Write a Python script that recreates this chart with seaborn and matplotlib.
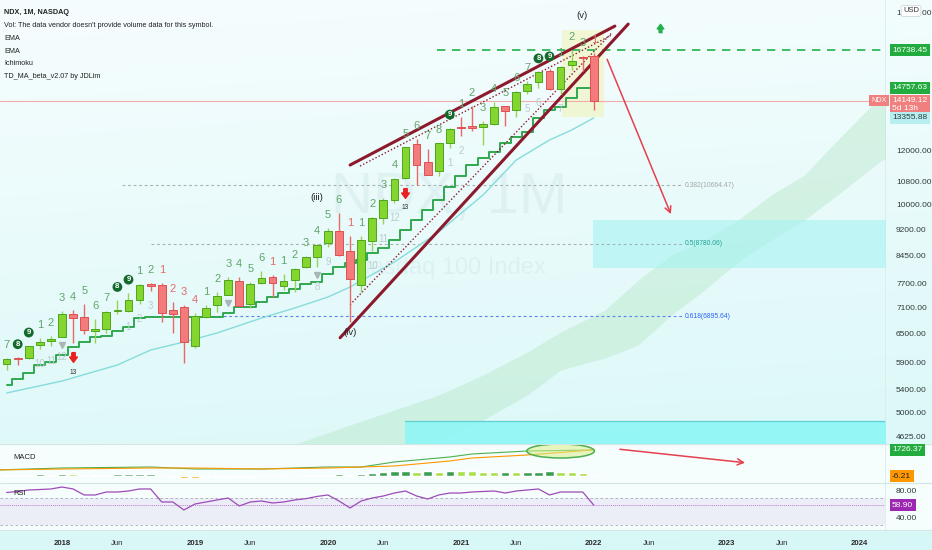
import numpy as np
import pandas as pd
import matplotlib
matplotlib.use("Agg")
import matplotlib.pyplot as plt
import matplotlib.transforms as mtransforms
from matplotlib.patches import Ellipse, Rectangle
import seaborn as sns

# ---------------- data ----------------
months = pd.period_range("2017-08", "2022-01", freq="M")
opens = [5885, 5995, 5990, 6266, 6352,
         6433, 6942, 6873, 6555, 6616, 7012, 7005, 7278, 7670, 7652, 7033, 7103,
         6248, 6880, 7151, 7407, 7755, 7188, 7703, 7871, 7624, 7771, 8130, 8406,
         8797, 9175, 8560, 7661, 8849, 9569, 10167, 10943, 12224, 11540, 11194, 12299,
         12930, 12993, 12959, 13090, 13881, 13730, 14611, 15029, 15601, 14726, 15908, 16380,
         16411]
highs = [6002, 6015, 6254, 6410, 6460,
         7022, 7042, 7187, 6827, 7015, 7280, 7459, 7669, 7697, 7700, 7221, 7158,
         6974, 7148, 7482, 7849, 7850, 7719, 8027, 7906, 7950, 8099, 8425, 8777,
         9248, 9719, 9010, 9007, 9610, 10221, 10946, 12110, 12439, 12058, 12290, 12930,
         13410, 13879, 13218, 14062, 13905, 14586, 15116, 15594, 15701, 15883, 16764, 16420,
         16573]
lows = [5760, 5862, 5975, 6186, 6253,
        6427, 6302, 6491, 6306, 6520, 6955, 6988, 7173, 7488, 6763, 6519, 5898,
        6203, 6856, 7003, 7407, 7123, 7094, 7686, 7340, 7530, 7471, 8091, 8138,
        8683, 8436, 6771, 7465, 8556, 9376, 10046, 10904, 10677, 11056, 11022, 12092,
        12574, 12781, 12210, 13062, 13003, 13395, 14480, 14745, 14676, 14454, 15673, 15620,
        13724]
closes = [5988, 5979, 6248, 6335, 6396,
          6949, 6854, 6581, 6605, 7000, 7040, 7272, 7657, 7628, 6967, 6949, 6330,
          6906, 7089, 7378, 7781, 7128, 7671, 7845, 7692, 7749, 8083, 8403, 8733,
          9150, 8462, 7813, 8890, 9555, 10157, 10905, 12110, 11418, 11052, 12268, 12888,
          12925, 12909, 13091, 13860, 13687, 14554, 14959, 15583, 14689, 15850, 16135, 16330,
          14149.12]

# TD_MA step line (one value per candle)
stair_price = [5483, 5593, 5706, 5861, 5920,
               6059, 6223, 6328, 6434, 6455, 6564, 6652, 6854, 6877, 6877, 6877, 6877,
               6877, 6877, 6877, 6970, 7111, 7111, 7230, 7351, 7450, 7550, 7677, 7728,
               7938, 8125, 8233, 8316, 8513, 8656, 8890, 9191, 9503, 9825, 10158, 10608,
               11004, 11415, 11684, 11920, 12283, 12532, 12742, 13351, 13711, 13849, 14271, 14757.63,
               14757.63]

# EMA (sampled points)
ema_month = [-5, 0, 5, 8, 11, 14, 18, 21, 24, 26, 30, 34, 38, 41, 44, 46, 48]
ema_price = [5339, 5556, 5861, 6161, 6328, 6521, 6854, 7087, 7351, 7600, 8261, 9130,
             10329, 11607, 12407, 12828, 13355.88]

# Ichimoku cloud (sampled points, projected forward)
cloud_month = [21, 26, 30, 34, 38, 42, 45, 49, 52, 55, 58, 61, 64, 67, 70, 74, 76]
cloud_upper = [4500, 4798, 5045, 5303, 5668, 6120, 6543, 7039, 7780, 8456, 8890, 9503,
               10329, 11040, 12407, 14414, 14600]
cloud_lower = [4300, 4300, 4415, 4565, 4879, 5303, 5764, 5999, 6264, 6923, 7525, 8261,
               8890, 9503, 10329, 11607, 11800]

# RSI (one per candle)
rsi_values = [77.8, 79.3, 81.5, 82.2, 83.0,
              85.9, 83.0, 74.1, 74.1, 78.5, 78.5, 80.0, 83.0, 83.0, 63.7, 63.7, 51.9,
              60.7, 63.7, 66.7, 69.6, 57.8, 63.7, 65.2, 62.2, 63.7, 66.7, 68.6, 71.9,
              74.1, 65.2, 54.8, 65.2, 69.6, 72.6, 77.0, 80.0, 72.6, 68.1, 74.1, 77.0,
              77.0, 78.5, 79.3, 80.0, 77.0, 80.0, 81.5, 83.0, 74.1, 78.5, 78.5, 78.5,
              58.9]

# MACD
macd_month = [-6, 0, 8, 12, 18, 24, 27, 30, 35, 37, 42, 48]
macd_line = [398, 531, 598, 465, 465, 598, 598, 930, 1262, 1460, 1660, 1726.37]
signal_line = [398, 465, 531, 531, 465, 531, 598, 664, 996, 1195, 1394, 1732.58]
hist_values = [80, 60, 90, 110, 90,
               120, 100, 80, 60, 80, 100, 110, 120, 130, 10, -40, -120,
               -130, -90, -70, -50, -60, -40, -20, -10, -5, 30, 60, 40,
               70, 100, 60, 120, 200, 260, 300, 330, 280, 320, 260, 330,
               320, 300, 260, 240, 260, 250, 270, 290, 300, 250, 240, 230,
               -6.21]

# TD sequential labels
td_green_m = [-5, -4, -3, -2, -1, 0, 1, 2, 3, 4, 5, 6, 7, 8, 13, 14, 15, 16, 17, 18,
              20, 21, 22, 23, 24, 25, 27, 28, 29, 30, 31, 32, 33, 34, 35, 36, 37, 38,
              39, 40, 41, 42, 43, 44, 45, 46, 47]
td_green_txt = ['7', '8', '9', '1', '2', '3', '4', '5', '6', '7', '8', '9', '1', '2',
                '1', '2', '3', '4', '5', '6', '1', '2', '3', '4', '5', '6',
                '1', '2', '3', '4', '5', '6', '7', '8', '9', '1', '2', '3', '4', '5',
                '6', '7', '8', '9', '1', '2', '3']
td_circled_m = [-4, -3, 5, 6, 35, 43, 44]
td_red_m = [9, 10, 11, 12, 19, 26, 48]
td_red_txt = ['1', '2', '3', '4', '1', '1', '1']
cd_m = [-2, -1, 0, 6, 7, 8, 23, 24, 28, 29, 30, 35, 36, 42, 43, 45]
cd_txt = ['10', '11', '12', '1', '2', '3', '8', '9', '10', '11', '12', '1', '2', '5', '6', '7']
td13_m = [1, 31]
tri_m = [0, 15, 23]

# annotations
fib_levels = [10664.47, 8780.06, 6895.64]
fib_names = ['0.382', '0.5', '0.618']
fib_start = [5.4, 8.0, 8.0]
fib_end = 56.0
target_level = 16738.45
wedge_upper_m, wedge_upper_p = [26.0, 49.9], [11414, 18138]
wedge_lower_m, wedge_lower_p = [25.1, 51.1], [6418, 18257]
dot_upper_m, dot_upper_p = [26.9, 49.6], [11376, 17602]
dot_lower_m, dot_lower_p = [26.0, 49.6], [7165, 17720]
arrow_main = [(49.1, 16380), (55.05, 9608)]
arrow_macd = [(50.1, 1793), (61.9, 863)]
box1_m, box1_p = 47.9, (8104, 9513)
box2_m, box2_p = 30.96, (4000, 4867)
hl_box_m, hl_box_p = (45.1, 48.9), (13390, 17890)
waves_txt = ['(iii)', '(iv)', '(v)']
waves_m = [23.0, 26.0, 46.9]
waves_p = [10258, 6521, 18819]
ticks_price = [4625, 5000, 5400, 5900, 6500, 7100, 7700, 8450, 9200, 10000, 10800, 12000, 19000]
xtick_m = [0, 5, 12, 17, 24, 29, 36, 41, 48, 53, 60, 65, 72]
xtick_lbl = ['2018', 'Jun', '2019', 'Jun', '2020', 'Jun', '2021', 'Jun', '2022', 'Jun', '2023', 'Jun', '2024']

# ---------------- style ----------------
sns.set_theme(style="white")
plt.rcParams['font.family'] = ['Liberation Sans', 'DejaVu Sans']
plt.rcParams['axes.unicode_minus'] = False

W, H = 932, 550
fig = plt.figure(figsize=(W / 100, H / 100), dpi=100)


def rect(x0, y0, x1, y1):
    return [x0 / W, 1 - y1 / H, (x1 - x0) / W, (y1 - y0) / H]


# background gradient
bg = fig.add_axes([0, 0, 1, 1], zorder=-5)
bg.set_axis_off()
ty = np.linspace(0, 1, 200)[:, None]
tx = np.linspace(0, 1, 200)[None, :]
g = np.clip(ty * 0.85 + tx * 0.1, 0, 1)[..., None]
c_top = np.array([0.965, 0.992, 0.994])
c_bot = np.array([0.835, 0.968, 0.968])
img = c_top * (1 - g) + c_bot * g
bg.imshow(img, extent=[0, 1, 0, 1], aspect='auto', origin='upper')
bg.set_xlim(0, 1)
bg.set_ylim(0, 1)
bg.add_patch(Rectangle((0, 1 - 530 / H), 1, 86 / H, color='#f6fdfd', zorder=2))
for yy in [444, 482.5, 530]:
    bg.plot([0, 1], [1 - yy / H, 1 - yy / H], color='#d3e6e6', lw=0.8, zorder=3)
bg.plot([885 / W, 885 / W], [1 - 530 / H, 1], color='#d8ecec', lw=0.6, zorder=3)

XL = (-62 / 11.08, (885 - 62) / 11.08)
ax = fig.add_axes(rect(0, 0, 885, 443), zorder=2)
axm = fig.add_axes(rect(0, 445, 885, 482), zorder=2)
axr = fig.add_axes(rect(0, 483, 885, 530), zorder=2)
for a in (ax, axm, axr):
    a.set_facecolor('none')
    for sp in a.spines.values():
        sp.set_visible(False)
    a.set_xlim(*XL)

m_idx = np.array([(p.year - 2018) * 12 + p.month - 1 for p in months])
df = pd.DataFrame({'m': m_idx, 'open': opens, 'high': highs, 'low': lows, 'close': closes,
                   'stair': stair_price, 'rsi': rsi_values, 'hist': hist_values})

# ---------------- main panel ----------------
ax.set_yscale('log')
ax.set_ylim(4519, 19785)
ax.text(0.508, 0.555, 'NDX, 1M', transform=ax.transAxes, ha='center', va='center',
        fontsize=42, color='#8fb5b5', alpha=0.12, zorder=0)
ax.text(0.508, 0.395, 'Nasdaq 100 Index', transform=ax.transAxes, ha='center', va='center',
        fontsize=17, color='#8fb5b5', alpha=0.12, zorder=0)

ax.fill_between(cloud_month, cloud_lower, cloud_upper, color='#b7e8c8', alpha=0.45, lw=0, zorder=0.5)
ax.fill_between([box1_m, 90], box1_p[0], box1_p[1], color='#a6f3f3', alpha=0.6, lw=0, zorder=0.6)
ax.fill_between([box2_m, 90], box2_p[0], box2_p[1], color='#8ef6f6', alpha=0.9, lw=0, zorder=0.6)
ax.plot([box2_m, 90], [box2_p[1], box2_p[1]], color='#5fcfd0', lw=0.9, zorder=0.7)
ax.fill_between(hl_box_m, hl_box_p[0], hl_box_p[1], color='#f1f3b5', alpha=0.55, lw=0, zorder=0.8)

ax.plot([XL[0], 54 + XL[1] - 54 - 1.2], [closes[-1], closes[-1]], color='#f39a9a', lw=0.8,
        alpha=0.8, zorder=1)

for lvl, nm, st, lc, tc in zip(fib_levels, fib_names, fib_start,
                               ['#a8b0b0', '#a8b0b0', '#5f80f0'],
                               ['#a0a8a8', '#22a396', '#2962ff']):
    ax.plot([st, fib_end], [lvl, lvl], color=lc, lw=0.8, ls=(0, (2.5, 2.5)), zorder=1)
    ax.text(fib_end + 0.2, lvl, f'{nm}({lvl:.2f})', color=tc, fontsize=4.9, va='center', ha='left', zorder=2)

ax.plot([33.8, 90], [target_level, target_level], color='#22b14c', lw=1.2, ls=(0, (5, 4)), zorder=1)

sns.lineplot(x=ema_month, y=ema_price, ax=ax, color='#86dcdc', lw=1.0, zorder=2)
sns.lineplot(x=df['m'], y=df['stair'], ax=ax, color='#2fa84f', lw=1.4, drawstyle='steps-mid', zorder=3)

ax.plot(wedge_upper_m, wedge_upper_p, color='#8c1a2c', lw=2.2, zorder=4, solid_capstyle='round')
ax.plot(wedge_lower_m, wedge_lower_p, color='#8c1a2c', lw=2.2, zorder=4, solid_capstyle='round')
ax.plot(dot_upper_m, dot_upper_p, color='#8c1a2c', lw=1.0, ls=(0, (1, 1.5)), zorder=4)
ax.plot(dot_lower_m, dot_lower_p, color='#8c1a2c', lw=1.0, ls=(0, (1, 1.5)), zorder=4)

up = df['close'] >= df['open']
bw = 0.7
for sel, fc, ec, wc in [(up, '#84d62e', '#4ba61d', '#96d458'), (~up, '#f47b7b', '#de5050', '#ea6a6a')]:
    d = df[sel]
    ax.vlines(d['m'], d['low'], d['high'], color=wc, lw=1.0, zorder=4.5)
    ax.bar(d['m'], (d['close'] - d['open']).abs().clip(lower=20), bottom=np.minimum(d['open'], d['close']),
           width=bw, color=fc, edgecolor=ec, linewidth=0.7, zorder=5)

hi = dict(zip(df['m'], df['high']))
lo = dict(zip(df['m'], df['low']))

for m, t in zip(td_green_m, td_green_txt):
    if m in td_circled_m:
        ax.annotate(t, xy=(m, hi[m]), xytext=(0, 13), textcoords='offset pixels', ha='center', va='center',
                    fontsize=5.6, color='white', weight='bold', zorder=7,
                    bbox=dict(boxstyle='circle,pad=0.18', fc='#13692c', ec='none'))
    else:
        ax.annotate(t, xy=(m, hi[m]), xytext=(0, 13), textcoords='offset pixels', ha='center', va='center',
                    fontsize=8, color='#5fa56a', zorder=7)
for m, t in zip(td_red_m, td_red_txt):
    ax.annotate(t, xy=(m, hi[m]), xytext=(0, 13), textcoords='offset pixels', ha='center', va='center',
                fontsize=8, color='#e26a6a', zorder=7)
for m, t in zip(cd_m, cd_txt):
    off = -20 if m in tri_m else -15
    ax.annotate(t, xy=(m, lo[m]), xytext=(0, off), textcoords='offset pixels', ha='center', va='center',
                fontsize=7, color='#b9cccc', zorder=6)
for m in td13_m:
    ax.annotate('13', xy=(m, lo[m]), xytext=(0, -29), textcoords='offset pixels', ha='center', va='center',
                fontsize=4.8, color='#333333', zorder=7)
arrow_verts = [(-0.35, 1), (0.35, 1), (0.35, 0.1), (0.8, 0.1), (0, -1), (-0.8, 0.1), (-0.35, 0.1), (-0.35, 1)]
t_arrow = mtransforms.offset_copy(ax.transData, fig=fig, x=0, y=-14, units='dots')
ax.plot(td13_m, [lo[m] for m in td13_m], ls='none', marker=arrow_verts, ms=7, color='#e8211f',
        transform=t_arrow, zorder=7)
t_tri = mtransforms.offset_copy(ax.transData, fig=fig, x=0, y=-8, units='dots')
ax.plot(tri_m, [lo[m] for m in tri_m], ls='none', marker='v', ms=4, color='#aab5b5',
        transform=t_tri, zorder=7)
ax.plot([54.0], [18020], ls='none', marker=[(x, -y) for x, y in arrow_verts], ms=6, color='#22b14c', zorder=7)

for t, m, p in zip(waves_txt, waves_m, waves_p):
    ax.text(m, p, t, ha='center', va='center', fontsize=6.8, color='#222222', zorder=8)

ax.annotate('', xy=arrow_main[1], xytext=arrow_main[0],
            arrowprops=dict(arrowstyle='->', color='#e5404f', lw=1.1, mutation_scale=11), zorder=8)

ax.set_xticks([])
ax.yaxis.tick_right()
ax.set_yticks(ticks_price)
ax.set_yticklabels([f'{v:.2f}' for v in ticks_price])
ax.yaxis.set_minor_locator(matplotlib.ticker.NullLocator())
ax.tick_params(axis='y', length=0, pad=8, labelsize=6, labelcolor='#2f3a3a')
ax.set_xlabel('')
ax.set_ylabel('')

blend = mtransforms.blended_transform_factory(ax.transAxes, ax.transData)


def rlabel(a, y, text, fc, tc='white', dy=0):
    bl = mtransforms.blended_transform_factory(a.transAxes, a.transData)
    a.annotate(text, xy=(1, y), xycoords=bl, xytext=(7, dy), textcoords='offset pixels',
               ha='left', va='center', fontsize=6, color=tc, zorder=10, annotation_clip=False,
               bbox=dict(boxstyle='square,pad=0.3', fc=fc, ec='none'))


rlabel(ax, target_level, '16738.45', '#22ab3f')
rlabel(ax, stair_price[-1], '14757.63', '#22ab3f')
rlabel(ax, closes[-1], '14149.12\n5d 13h', '#f07f7f', dy=-4)
rlabel(ax, ema_price[-1], '13355.88', '#b7eef2', tc='#2a3a3a')
ax.annotate('NDX', xy=(1, closes[-1]), xycoords=blend, xytext=(2, 0), textcoords='offset pixels',
            ha='right', va='center', fontsize=5.2, color='white', annotation_clip=False, zorder=10,
            bbox=dict(boxstyle='square,pad=0.3', fc='#f07f7f', ec='none'))
fig.text(911 / W, 1 - 11 / H, 'USD', ha='center', va='center', fontsize=5.5, color='#333333',
         bbox=dict(boxstyle='round,pad=0.25', fc='white', ec='#cfd8d8', lw=0.6), zorder=20)

# legend text
legend_lines = ['NDX, 1M, NASDAQ', "Vol: The data vendor doesn't provide volume data for this symbol.",
                'EMA', 'EMA', 'Ichimoku', 'TD_MA_beta_v2.07 by JDLim']
for i, t in enumerate(legend_lines):
    fig.text(4 / W, 1 - (12.7 + 12.8 * i) / H, t, fontsize=5.2, color='#222222', va='center',
             weight='bold' if i == 0 else 'normal', zorder=20)

# ---------------- MACD ----------------
axm.set_ylim(-398, 2058)
hcol = []
prev = 0
for v in hist_values:
    if v >= 0:
        hcol.append('#3c9e55' if v >= prev else '#a8e04c')
    else:
        hcol.append('#ff9800' if v < prev else '#f2e36a')
    prev = v
axm.bar(df['m'], df['hist'], width=0.75, color=hcol, zorder=2)
sns.lineplot(x=macd_month, y=macd_line, ax=axm, color='#4caf50', lw=0.8, zorder=3)
sns.lineplot(x=macd_month, y=signal_line, ax=axm, color='#ff9800', lw=0.8, zorder=3)
axm.add_patch(Ellipse((45.0, 1660), 6.1, 930, fc='#d8ef8a', alpha=0.55, ec='none', zorder=3.5))
axm.add_patch(Ellipse((45.0, 1660), 6.1, 930, fc='none', ec='#4caf50', lw=1.1, zorder=4))
axm.annotate('', xy=arrow_macd[1], xytext=arrow_macd[0],
             arrowprops=dict(arrowstyle='->', color='#e5404f', lw=1.1, mutation_scale=11))
axm.text(13 / 885, 0.65, 'MACD', transform=axm.transAxes, fontsize=5.5, color='#222222', va='center')
axm.set_xticks([])
axm.set_yticks([])
axm.set_xlabel('')
axm.set_ylabel('')
rlabel(axm, 1726.37, '1726.37', '#22ab3f')
rlabel(axm, -6.21, '-6.21', '#ff9800', tc='#222222')

# ---------------- RSI ----------------
axr.set_ylim(22.2, 91.85)
axr.fill_between([XL[0], XL[1]], 30, 70, color='#7e57c2', alpha=0.09, lw=0, zorder=1)
for lv in (70, 30):
    axr.axhline(lv, color='#a8a8b0', lw=0.6, ls=(0, (3, 3)), zorder=1.5)
axr.axhline(rsi_values[-1], color='#c27bd3', lw=0.7, ls=(0, (1, 1)), zorder=1.6)
sns.lineplot(x=df['m'], y=df['rsi'], ax=axr, color='#9d4bb8', lw=0.9, zorder=3)
axr.text(13 / 885, 0.78, 'RSI', transform=axr.transAxes, fontsize=5.5, color='#222222', va='center')
axr.yaxis.tick_right()
axr.set_yticks([80, 40])
axr.set_yticklabels(['80.00', '40.00'])
axr.tick_params(axis='y', length=0, pad=8, labelsize=6, labelcolor='#2f3a3a')
axr.set_xticks(xtick_m)
axr.set_xticklabels(xtick_lbl)
axr.tick_params(axis='x', length=0, pad=7, labelsize=5.6, labelcolor='#2a2a2a')
for lab in axr.get_xticklabels():
    if lab.get_text().isdigit():
        lab.set_fontweight('bold')
axr.set_xlabel('')
axr.set_ylabel('')
rlabel(axr, rsi_values[-1], '58.90', '#9c27b0')

fig.savefig('out.png', dpi=100)
